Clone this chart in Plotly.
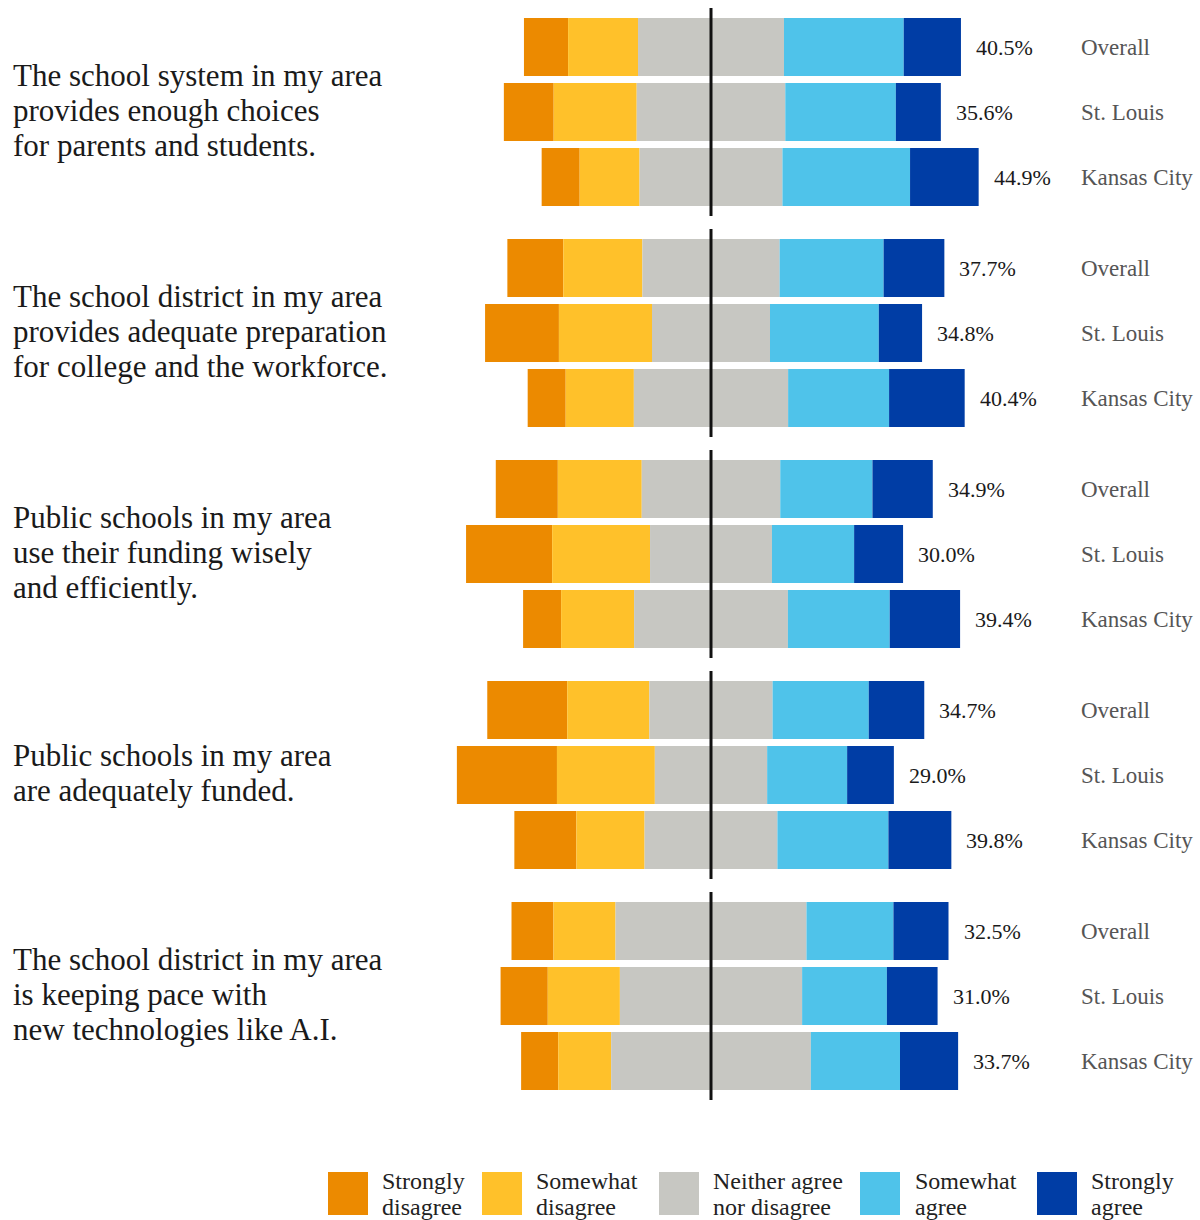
import plotly.graph_objects as go

# ---------------- data ----------------
questions = [
    ["The school system in my area", "provides enough choices", "for parents and students."],
    ["The school district in my area", "provides adequate preparation", "for college and the workforce."],
    ["Public schools in my area", "use their funding wisely", "and efficiently."],
    ["Public schools in my area", "are adequately funded."],
    ["The school district in my area", "is keeping pace with", "new technologies like A.I."],
]
groups = ["Overall", "St. Louis", "Kansas City"]

strongly_disagree = [[10.1, 11.4, 8.7], [12.8, 16.9, 8.7], [14.2, 19.7, 8.7], [18.3, 22.9, 14.2], [9.6, 10.8, 8.5]]
somewhat_disagree = [[16.0, 19.0, 13.7], [18.1, 21.3, 15.6], [19.2, 22.4, 16.7], [18.8, 22.4, 15.6], [14.2, 16.5, 12.1]]
neither = [[33.4, 34.0, 32.7], [31.4, 27.0, 35.3], [31.7, 27.9, 35.2], [28.2, 25.7, 30.4], [43.7, 41.7, 45.7]]
somewhat_agree = [[27.4, 25.3, 29.2], [23.8, 24.9, 23.1], [21.1, 18.8, 23.3], [22.0, 18.3, 25.4], [19.9, 19.4, 20.4]]
strongly_agree = [[13.1, 10.3, 15.7], [13.9, 9.9, 17.3], [13.8, 11.2, 16.1], [12.7, 10.7, 14.4], [12.6, 11.6, 13.3]]
agree_total = [[40.5, 35.6, 44.9], [37.7, 34.8, 40.4], [34.9, 30.0, 39.4], [34.7, 29.0, 39.8], [32.5, 31.0, 33.7]]

legend_labels = [["Strongly", "disagree"], ["Somewhat", "disagree"], ["Neither agree", "nor disagree"],
                 ["Somewhat", "agree"], ["Strongly", "agree"]]
colors = ["#EC8A00", "#FFC12A", "#C7C7C2", "#4FC3EA", "#003DA5"]

# ---------------- layout helpers ----------------
W, H = 1200, 1220
CENTER_PX = 711
SCALE = 4.37          # px per percentage point
ROW_PX = 65
FIRST_PX = 47
GROUP_STEP = 3.4
FONT = "Liberation Serif"

def ypos(g, r):
    return g * GROUP_STEP + r

ys, sd_x, sd_b, sw_x, sw_b, n_x, n_b, sa_x, sa_b, st_x, st_b = ([] for _ in range(11))
for g in range(len(questions)):
    for r in range(3):
        y = ypos(g, r)
        ys.append(y)
        nh = neither[g][r] / 2
        sw_b.append(-nh - somewhat_disagree[g][r]); sw_x.append(somewhat_disagree[g][r])
        sd_b.append(-nh - somewhat_disagree[g][r] - strongly_disagree[g][r]); sd_x.append(strongly_disagree[g][r])
        n_b.append(-nh); n_x.append(neither[g][r])
        sa_b.append(nh); sa_x.append(somewhat_agree[g][r])
        st_b.append(nh + somewhat_agree[g][r]); st_x.append(strongly_agree[g][r])

fig = go.Figure()
bw = 58 / ROW_PX
for xs, bs, c, name in [(sd_x, sd_b, colors[0], "Strongly disagree"),
                        (sw_x, sw_b, colors[1], "Somewhat disagree"),
                        (n_x, n_b, colors[2], "Neither"),
                        (sa_x, sa_b, colors[3], "Somewhat agree"),
                        (st_x, st_b, colors[4], "Strongly agree")]:
    fig.add_trace(go.Bar(y=ys, x=xs, base=bs, orientation="h", width=bw,
                         marker=dict(color=c, line=dict(width=0)), name=name,
                         showlegend=False, hoverinfo="skip"))

annotations = []
shapes = []
for g, q in enumerate(questions):
    # center line
    shapes.append(dict(type="line", xref="x", yref="y", x0=0, x1=0,
                       y0=ypos(g, 0) - bw / 2 - 10 / ROW_PX, y1=ypos(g, 2) + bw / 2 + 10 / ROW_PX,
                       line=dict(color="#111111", width=3)))
    # question text
    n = len(q)
    mid = ypos(g, 1) - 2 / ROW_PX
    for i, line in enumerate(q):
        annotations.append(dict(xref="paper", yref="y", x=11 / W, y=mid + (i - (n - 1) / 2) * 35 / ROW_PX,
                                text=line, showarrow=False, xanchor="left", yanchor="middle",
                                font=dict(family=FONT, size=31, color="#1a1a1a")))
    for r in range(3):
        y = ypos(g, r)
        end = neither[g][r] / 2 + somewhat_agree[g][r] + strongly_agree[g][r]
        annotations.append(dict(xref="x", yref="y", x=end, y=y, xshift=13,
                                text=f"{agree_total[g][r]:.1f}%", showarrow=False,
                                xanchor="left", yanchor="middle",
                                font=dict(family=FONT, size=22, color="#1a1a1a")))
        annotations.append(dict(xref="paper", yref="y", x=1079 / W, y=y,
                                text=groups[r], showarrow=False, xanchor="left", yanchor="middle",
                                font=dict(family=FONT, size=23, color="#555555")))

# legend (drawn)
sw_left = [328, 482, 659, 860, 1037]
txt_left = [380, 534, 711, 913, 1089]
for i in range(5):
    shapes.append(dict(type="rect", xref="paper", yref="paper",
                       x0=sw_left[i] / W, x1=(sw_left[i] + 40) / W,
                       y0=1 - 1215 / H, y1=1 - 1172 / H,
                       fillcolor=colors[i], line=dict(width=0)))
    for j, line in enumerate(legend_labels[i]):
        annotations.append(dict(xref="paper", yref="paper", x=txt_left[i] / W,
                                y=1 - (1181 + j * 26) / H, text=line, showarrow=False,
                                xanchor="left", yanchor="middle",
                                font=dict(family=FONT, size=24, color="#222222")))

fig.update_layout(
    width=W, height=H,
    margin=dict(l=0, r=0, t=0, b=0),
    paper_bgcolor="white", plot_bgcolor="white",
    barmode="overlay",
    xaxis=dict(range=[-CENTER_PX / SCALE, (W - CENTER_PX) / SCALE], visible=False, fixedrange=True),
    yaxis=dict(range=[(H - FIRST_PX) / ROW_PX, -FIRST_PX / ROW_PX], visible=False, fixedrange=True),
    annotations=annotations, shapes=shapes,
    showlegend=False,
)

fig.write_html("out.html")
